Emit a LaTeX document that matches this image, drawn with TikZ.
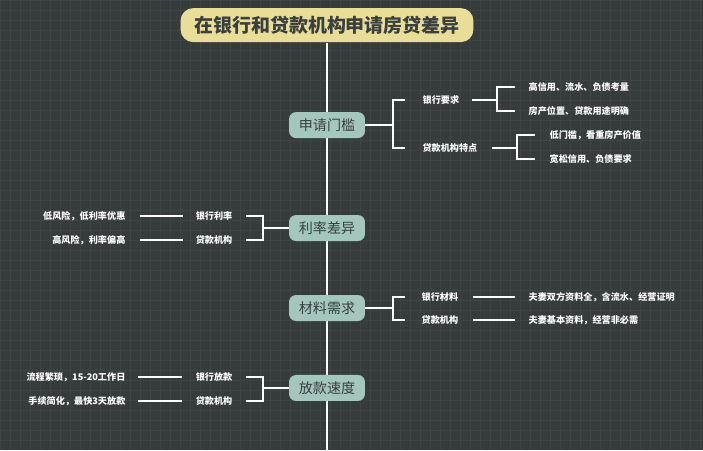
\documentclass[tikz,border=0pt]{standalone}
\usepackage{fontspec}
\setmainfont{Noto Sans CJK SC}
\usetikzlibrary{positioning}
\definecolor{bgc}{HTML}{363B3C}
\definecolor{gridc}{HTML}{3E4344}
\definecolor{titlec}{HTML}{E9DE98}
\definecolor{mainc}{HTML}{A3C6BD}
\definecolor{textc}{HTML}{3A3F40}
\tikzset{
  main/.style={fill=mainc, rounded corners=5pt, minimum width=76*0.025cm, minimum height=26*0.025cm, text=textc, font=\fontsize{10}{12}\selectfont, inner sep=1pt},
  leaf/.style={text=white, font=\bfseries\fontsize{6.5}{8}\selectfont, inner sep=1pt},
  link/.style={draw=white, line width=1.3pt}
}
\begin{document}
\begin{tikzpicture}[x=0.025cm, y=-0.025cm]
\fill[bgc] (0,0) rectangle (703,450);
\draw[gridc, line width=0.2pt, step=0.25cm] (0,0) grid (703,450);
\useasboundingbox (0,0) rectangle (703,450);
% spine
\draw[link] (327,43) -- (327,450);
\node[fill=titlec, rounded corners=9pt, minimum width=293*0.025cm, minimum height=34*0.025cm, text=textc, font=\bfseries\fontsize{13.5}{15}\selectfont] (title) at (327,25) {在银行和贷款机构申请房贷差异};

\node[main] (m1) at (327,125) {申请门槛};
\node[main] (m2) at (327,228) {利率差异};
\node[main] (m3) at (327,308) {材料需求};
\node[main] (m4) at (327,388) {放款速度};

% 申请门槛
\node[leaf] (bq) at (441,100) {银行要求};
\node[leaf] (dt) at (450,148) {贷款机构特点};
\node[leaf, anchor=west] (bq1) at (527,87) {高信用、流水、负债考量};
\node[leaf, anchor=west] (bq2) at (527,111) {房产位置、贷款用途明确};
\node[leaf, anchor=west] (dt1) at (548,135) {低门槛，看重房产价值};
\node[leaf, anchor=west] (dt2) at (548,159) {宽松信用、负债要求};
\draw[link] (m1.east) -- (393,125);
\draw[link] (405,100) -| (393,148) -- (405,148);
\draw[link] (472,100) -- (497,100);
\draw[link] (515,87) -| (497,111) -- (515,111);
\draw[link] (492,148) -- (517,148);
\draw[link] (535,135) -| (517,159) -- (535,159);

% 利率差异
\node[leaf] (bl) at (214,216) {银行利率};
\node[leaf] (dl) at (214,240) {贷款机构};
\node[leaf, anchor=east] (bl1) at (127,216) {低风险，低利率优惠};
\node[leaf, anchor=east] (dl1) at (127,240) {高风险，利率偏高};
\draw[link] (m2.west) -- (263,228);
\draw[link] (246,216) -| (263,240) -- (246,240);
\draw[link] (140,216) -- (183,216);
\draw[link] (140,240) -- (183,240);

% 材料需求
\node[leaf] (bc) at (440,297) {银行材料};
\node[leaf] (dc) at (440,320) {贷款机构};
\node[leaf, anchor=west] (bc1) at (527,297) {夫妻双方资料全，含流水、经营证明};
\node[leaf, anchor=west] (dc1) at (527,320) {夫妻基本资料，经营非必需};
\draw[link] (m3.east) -- (393,308);
\draw[link] (405,297) -| (393,320) -- (405,320);
\draw[link] (473,297) -- (515,297);
\draw[link] (473,320) -- (515,320);

% 放款速度
\node[leaf] (bf) at (214,377) {银行放款};
\node[leaf] (df) at (214,401) {贷款机构};
\node[leaf, anchor=east] (bf1) at (127,377) {流程繁琐，15-20工作日};
\node[leaf, anchor=east] (df1) at (127,401) {手续简化，最快3天放款};
\draw[link] (m4.west) -- (263,388);
\draw[link] (246,377) -| (263,401) -- (246,401);
\draw[link] (138,377) -- (182,377);
\draw[link] (138,401) -- (182,401);
\end{tikzpicture}
\end{document}
